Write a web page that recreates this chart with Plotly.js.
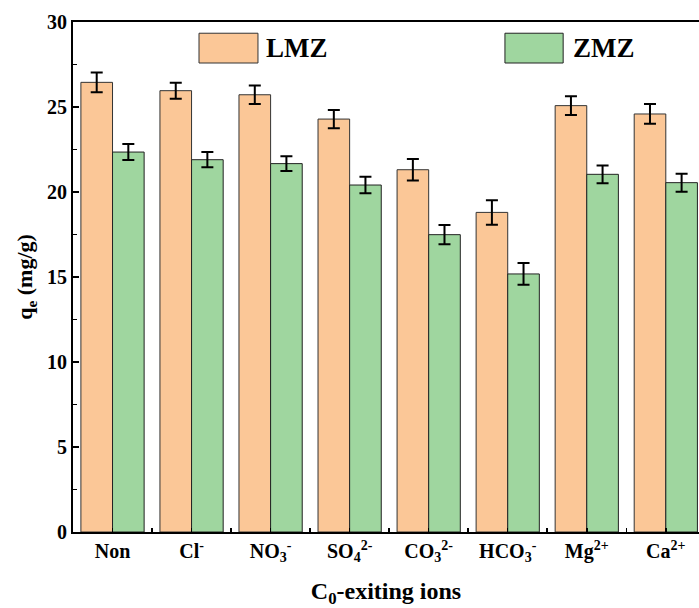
<!DOCTYPE html>
<html>
<head>
<meta charset="utf-8">
<script src="https://cdn.plot.ly/plotly-3.0.1.min.js"></script>
<style>html,body{margin:0;padding:0;background:#fff;overflow:hidden;}</style>
</head>
<body>
<div id="chart" style="width:699px;height:608px;"></div>
<script>
const categories = ["Non", "Cl<sup>-</sup>", "NO<sub>3</sub><sup>-</sup>", "SO<sub>4</sub><sup>2-</sup>",
  "CO<sub>3</sub><sup>2-</sup>", "HCO<sub>3</sub><sup>-</sup>", "Mg<sup>2+</sup>", "Ca<sup>2+</sup>"];
const lmzValues = [26.45, 25.96, 25.72, 24.29, 21.31, 18.80, 25.08, 24.59];
const lmzErrors = [0.58, 0.47, 0.54, 0.54, 0.63, 0.72, 0.55, 0.58];
const zmzValues = [22.35, 21.90, 21.67, 20.41, 17.49, 15.18, 21.04, 20.55];
const zmzErrors = [0.47, 0.45, 0.43, 0.48, 0.57, 0.64, 0.52, 0.53];
const seriesNames = ["LMZ", "ZMZ"];

const xIdx = categories.map((c, i) => i);
const FONT = "Liberation Serif, Times New Roman, serif";
const orange = "#FBC797";
const green = "#9FD69F";

const errStyle = {type: "data", visible: true, color: "#000", thickness: 2, width: 6};

const traces = [
  {type: "bar", name: seriesNames[0], x: xIdx, y: lmzValues,
   error_y: Object.assign({array: lmzErrors}, errStyle),
   marker: {color: orange, line: {color: "#333", width: 1}}},
  {type: "bar", name: seriesNames[1], x: xIdx, y: zmzValues,
   error_y: Object.assign({array: zmzErrors}, errStyle),
   marker: {color: green, line: {color: "#222", width: 1}}}
];

const layout = {
  width: 699, height: 608,
  margin: {l: 73, r: 0, t: 22, b: 76, pad: 0},
  paper_bgcolor: "#fff", plot_bgcolor: "#fff",
  showlegend: false,
  barmode: "group", bargap: 0.2, bargroupgap: 0,
  font: {family: FONT, color: "#000"},
  xaxis: {
    range: [-0.5, 7.42],
    tickmode: "array", tickvals: xIdx, ticktext: categories,
    ticks: "inside", ticklen: 4, tickwidth: 1.5, tickcolor: "#000",
    minor: {tickmode: "linear", tick0: 0.5, dtick: 1, ticks: "inside", ticklen: 4, tickwidth: 1.5, tickcolor: "#000"},
    showline: true, linecolor: "#000", linewidth: 2, mirror: true,
    showgrid: false, zeroline: false,
    tickfont: {family: FONT, size: 20, weight: "bold", color: "#000"},
    title: {text: "C<sub>0</sub>-exiting ions", font: {family: FONT, size: 24, weight: "bold", color: "#000"}, standoff: 18}
  },
  yaxis: {
    range: [0, 30], dtick: 5, tick0: 0,
    ticks: "inside", ticklen: 6, tickwidth: 1.5, tickcolor: "#000",
    minor: {dtick: 2.5, ticks: "inside", ticklen: 4, tickwidth: 1.5, tickcolor: "#000"},
    showline: true, linecolor: "#000", linewidth: 2, mirror: false,
    showgrid: false, zeroline: false,
    tickfont: {family: FONT, size: 20, weight: "bold", color: "#000"},
    title: {text: "q<sub>e</sub> (mg/g)", font: {family: FONT, size: 22, weight: "bold", color: "#000"}, standoff: 8}
  },
  shapes: [
    {type: "rect", xref: "paper", yref: "paper", x0: 0.2013, x1: 0.2955, y0: 0.9196, y1: 0.978,
     fillcolor: orange, line: {color: "#333", width: 1}},
    {type: "rect", xref: "paper", yref: "paper", x0: 0.690, x1: 0.783, y0: 0.9196, y1: 0.978,
     fillcolor: green, line: {color: "#222", width: 1}}
  ],
  annotations: [
    {xref: "paper", yref: "paper", x: 0.305, y: 0.949, xanchor: "left", yanchor: "middle",
     text: seriesNames[0], showarrow: false, font: {family: FONT, size: 27, weight: "bold", color: "#000"}},
    {xref: "paper", yref: "paper", x: 0.7955, y: 0.949, xanchor: "left", yanchor: "middle",
     text: seriesNames[1], showarrow: false, font: {family: FONT, size: 27, weight: "bold", color: "#000"}}
  ]
};

Plotly.newPlot("chart", traces, layout, {displayModeBar: false, staticPlot: true});
</script>
</body>
</html>
